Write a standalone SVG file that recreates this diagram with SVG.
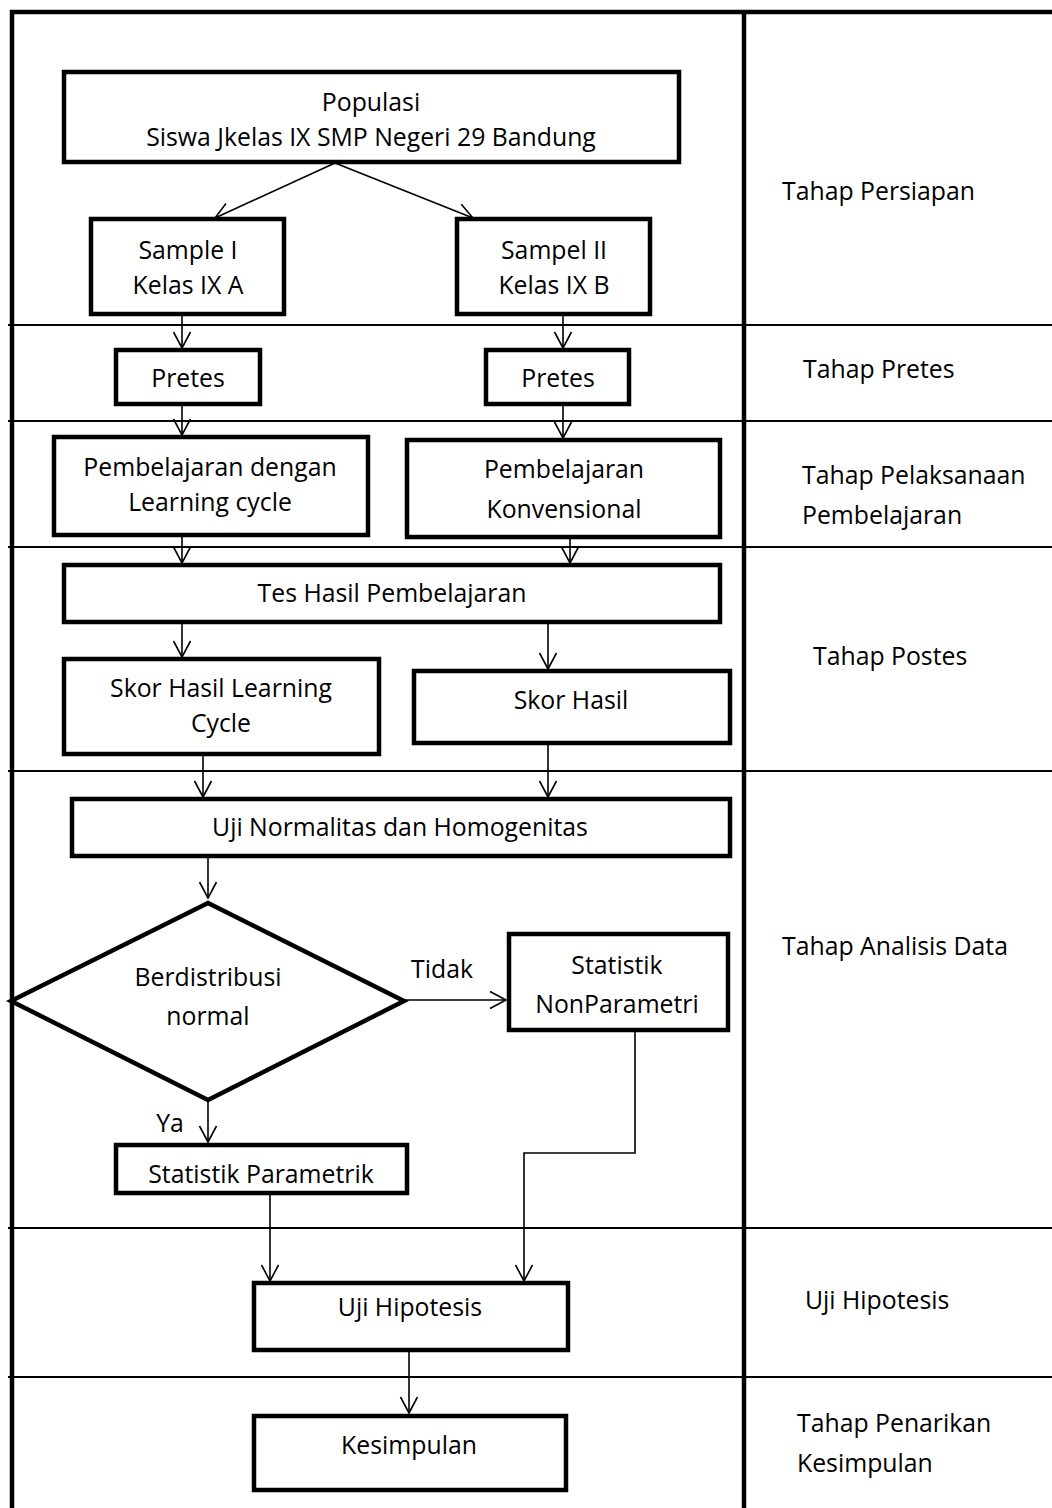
<svg xmlns="http://www.w3.org/2000/svg" width="1052" height="1508" viewBox="0 0 1052 1508">
<style>
  text { font-family: "Open Sans", "Liberation Sans", sans-serif; font-size: 24.8px; fill: #000; }
  .c { text-anchor: middle; }
  .box { fill: #fff; stroke: #000; stroke-width: 4.5; }
  .frame { stroke: #000; stroke-width: 4.5; fill: none; }
  .row { stroke: #000; stroke-width: 2; fill: none; }
  .con { stroke: #000; stroke-width: 1.6; fill: none; marker-end: url(#arr); }
</style>
<defs>
  <marker id="arr" markerUnits="userSpaceOnUse" markerWidth="20" markerHeight="20" viewBox="0 0 20 20" refX="18" refY="10" orient="auto">
    <path d="M2,1.5 L18,10 L2,18.5" fill="none" stroke="#000" stroke-width="1.6"/>
  </marker>
</defs>
<rect width="1052" height="1508" fill="#fff"/>
<g id="frame">
  <line class="frame" x1="10" y1="12" x2="1052" y2="12"/>
  <line class="frame" x1="12" y1="10" x2="12" y2="1508"/>
  <line class="frame" x1="744" y1="10" x2="744" y2="1508"/>
  <line class="row" x1="8" y1="325" x2="1052" y2="325"/>
  <line class="row" x1="8" y1="421" x2="1052" y2="421"/>
  <line class="row" x1="8" y1="547" x2="1052" y2="547"/>
  <line class="row" x1="8" y1="771" x2="1052" y2="771"/>
  <line class="row" x1="8" y1="1228" x2="1052" y2="1228"/>
  <line class="row" x1="8" y1="1377" x2="1052" y2="1377"/>
</g>
<g id="stages">
  <text x="782" y="200">Tahap Persiapan</text>
  <text x="803" y="378">Tahap Pretes</text>
  <text x="802" y="484">Tahap Pelaksanaan</text>
  <text x="802" y="524">Pembelajaran</text>
  <text x="813" y="665">Tahap Postes</text>
  <text x="782" y="955">Tahap Analisis Data</text>
  <text x="805" y="1309">Uji Hipotesis</text>
  <text x="797" y="1432">Tahap Penarikan</text>
  <text x="797" y="1472">Kesimpulan</text>
</g>
<g id="connectors">
  <line class="con" x1="335" y1="163" x2="215" y2="218"/>
  <line class="con" x1="335" y1="163" x2="473" y2="218"/>
  <line class="con" x1="182" y1="315" x2="182" y2="348"/>
  <line class="con" x1="563" y1="315" x2="563" y2="348"/>
  <line class="con" x1="182" y1="404" x2="182" y2="435"/>
  <line class="con" x1="563" y1="404" x2="563" y2="438"/>
  <line class="con" x1="182" y1="535" x2="182" y2="563"/>
  <line class="con" x1="570" y1="537" x2="570" y2="563"/>
  <line class="con" x1="182" y1="622" x2="182" y2="657"/>
  <line class="con" x1="548" y1="622" x2="548" y2="669"/>
  <line class="con" x1="203" y1="754" x2="203" y2="797"/>
  <line class="con" x1="548" y1="743" x2="548" y2="797"/>
  <line class="con" x1="208" y1="856" x2="208" y2="898"/>
  <line class="con" x1="404" y1="1000" x2="506" y2="1000"/>
  <line class="con" x1="208" y1="1100" x2="208" y2="1142"/>
  <polyline class="con" points="635,1030 635,1153 524,1153 524,1281"/>
  <line class="con" x1="270" y1="1193" x2="270" y2="1281"/>
  <line class="con" x1="409" y1="1350" x2="409" y2="1413"/>
  <text x="442" y="978" class="c">Tidak</text>
  <text x="170" y="1132" class="c">Ya</text>
</g>
<g id="populasi">
  <rect class="box" x="64" y="72" width="615" height="90"/>
  <text x="371" y="111" class="c">Populasi</text>
  <text x="371" y="146" class="c">Siswa Jkelas IX SMP Negeri 29 Bandung</text>
</g>
<g id="sample1">
  <rect class="box" x="91" y="219" width="193" height="95"/>
  <text x="188" y="259" class="c">Sample I</text>
  <text x="188" y="294" class="c">Kelas IX A</text>
</g>
<g id="sample2">
  <rect class="box" x="457" y="219" width="193" height="95"/>
  <text x="554" y="259" class="c">Sampel II</text>
  <text x="554" y="294" class="c">Kelas IX B</text>
</g>
<g id="pretes1">
  <rect class="box" x="116" y="350" width="144" height="54"/>
  <text x="188" y="387" class="c">Pretes</text>
</g>
<g id="pretes2">
  <rect class="box" x="486" y="350" width="143" height="54"/>
  <text x="558" y="387" class="c">Pretes</text>
</g>
<g id="pembelajaran-lc">
  <rect class="box" x="54" y="437" width="314" height="98"/>
  <text x="210" y="476" class="c">Pembelajaran dengan</text>
  <text x="210" y="511" class="c">Learning cycle</text>
</g>
<g id="pembelajaran-konv">
  <rect class="box" x="407" y="440" width="313" height="97"/>
  <text x="564" y="478" class="c">Pembelajaran</text>
  <text x="564" y="518" class="c">Konvensional</text>
</g>
<g id="tes-hasil">
  <rect class="box" x="64" y="565" width="656" height="57"/>
  <text x="392" y="602" class="c">Tes Hasil Pembelajaran</text>
</g>
<g id="skor-lc">
  <rect class="box" x="64" y="659" width="315" height="95"/>
  <text x="221" y="697" class="c">Skor Hasil Learning</text>
  <text x="221" y="732" class="c">Cycle</text>
</g>
<g id="skor-hasil">
  <rect class="box" x="414" y="671" width="316" height="72"/>
  <text x="571" y="709" class="c">Skor Hasil</text>
</g>
<g id="uji-normalitas">
  <rect class="box" x="72" y="799" width="658" height="57"/>
  <text x="400" y="836" class="c">Uji Normalitas dan Homogenitas</text>
</g>
<g id="decision">
  <polygon class="box" points="208,903 404,1001 208,1100 11,1001"/>
  <text x="208" y="986" class="c">Berdistribusi</text>
  <text x="208" y="1025" class="c">normal</text>
</g>
<g id="nonparametrik">
  <rect class="box" x="509" y="934" width="219" height="96"/>
  <text x="617" y="974" class="c">Statistik</text>
  <text x="617" y="1013" class="c">NonParametri</text>
</g>
<g id="parametrik">
  <rect class="box" x="116" y="1145" width="291" height="48"/>
  <text x="261" y="1183" class="c">Statistik Parametrik</text>
</g>
<g id="uji-hipotesis">
  <rect class="box" x="254" y="1283" width="314" height="67"/>
  <text x="410" y="1316" class="c">Uji Hipotesis</text>
</g>
<g id="kesimpulan">
  <rect class="box" x="254" y="1416" width="312" height="74"/>
  <text x="409" y="1454" class="c">Kesimpulan</text>
</g>
</svg>
